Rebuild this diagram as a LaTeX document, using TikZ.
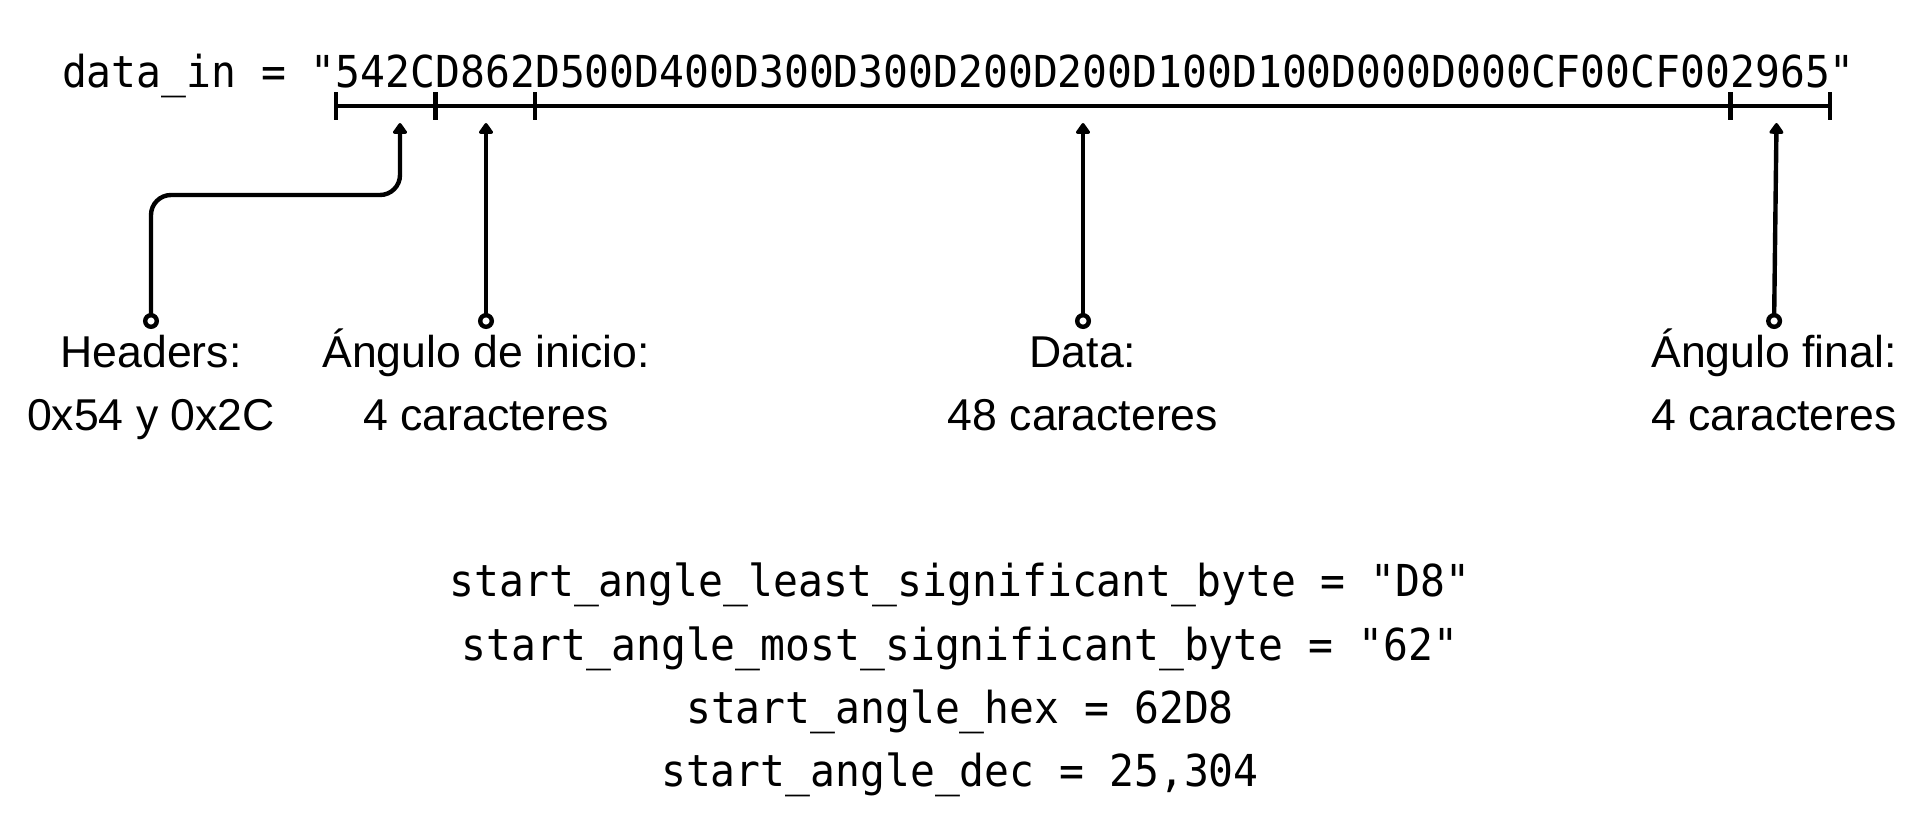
\documentclass[tikz,border=0pt]{standalone}
\usepackage{fontspec}
\setmainfont{Liberation Sans}
\newfontfamily\codefont[FakeStretch=0.94]{DejaVu Sans Mono}
\usetikzlibrary{arrows.meta}

\begin{document}
\begin{tikzpicture}[x=0.5pt, y=-0.5pt,
    code/.style={font=\codefont\fontsize{22pt}{26pt}\selectfont, inner sep=0pt, outer sep=0pt},
    lbl/.style={font=\fontsize{22.3pt}{26pt}\selectfont, inner sep=0pt, anchor=base},
    bar/.style={line width=2.2pt},
    conn/.style={line width=2.2pt, {Circle[open,length=8pt]}-{Triangle[length=6pt,width=8pt,round]}}]
  \useasboundingbox (0,0) rectangle (1920,835);

  % the string, one node per field
  \node[code, anchor=base west] (din) at (62,87) {data\_in = "};
  \node[code, anchor=base west] (hdrs) at (din.base east) {542C};
  \node[code, anchor=base west] (ini) at (hdrs.base east) {D862};
  \node[code, anchor=base west] (dat) at (ini.base east) {D500D400D300D300D200D200D100D100D000D000CF00CF00};
  \node[code, anchor=base west] (fin) at (dat.base east) {2965};
  \node[code, anchor=base west] (qt) at (fin.base east) {"};

  % field marks
  \coordinate (tickTop) at (0,92);
  \coordinate (tickBot) at (0,120);
  \coordinate (barY) at (0,106);
  \draw[bar] (hdrs.west |- barY) -- (fin.east |- barY);
  \foreach \p in {hdrs.west, ini.west, dat.west, fin.west, fin.east}
    \draw[bar] (\p |- tickTop) -- (\p |- tickBot);

  % labels
  \node[lbl] (hdrtitle) at (151,367) {Headers:};
  \node[lbl] (hdrsub) at (151,430) {0x54 y 0x2C};
  \node[lbl] (initle) at (486,367) {Ángulo de inicio:};
  \node[lbl] (inisub) at (486,430) {4 caracteres};
  \node[lbl] (dattitle) at (1083,367) {Data:};
  \node[lbl] (datsub) at (1083,430) {48 caracteres};
  \node[lbl] (fintitle) at (1774,367) {Ángulo final:};
  \node[lbl] (finsub) at (1774,430) {4 caracteres};

  % pointers
  \coordinate (tipY) at (0,123);
  \coordinate (elbowY) at (0,195);
  \coordinate (hdrtip) at (400,123);
  \coordinate (fintip) at (1776.5,123);
  \draw[conn, rounded corners=10pt] ([yshift=19pt]hdrtitle.base) |- (hdrtip |- elbowY) -- (hdrtip);
  \draw[conn] ([yshift=19pt]initle.base) -- (initle.base |- tipY);
  \draw[conn] ([yshift=19pt]dattitle.base) -- (dattitle.base |- tipY);
  \draw[conn] ([yshift=19pt]fintitle.base) -- (fintip);

  % decoding
  \node[code, anchor=base] (lsb) at (960,596) {start\_angle\_least\_significant\_byte = "D8"};
  \node[code, anchor=base] (msb) at (960,660) {start\_angle\_most\_significant\_byte = "62"};
  \node[code, anchor=base] (hex) at (960,723) {start\_angle\_hex = 62D8};
  \node[code, anchor=base] (dec) at (960,786) {start\_angle\_dec = 25,304};
\end{tikzpicture}
\end{document}
